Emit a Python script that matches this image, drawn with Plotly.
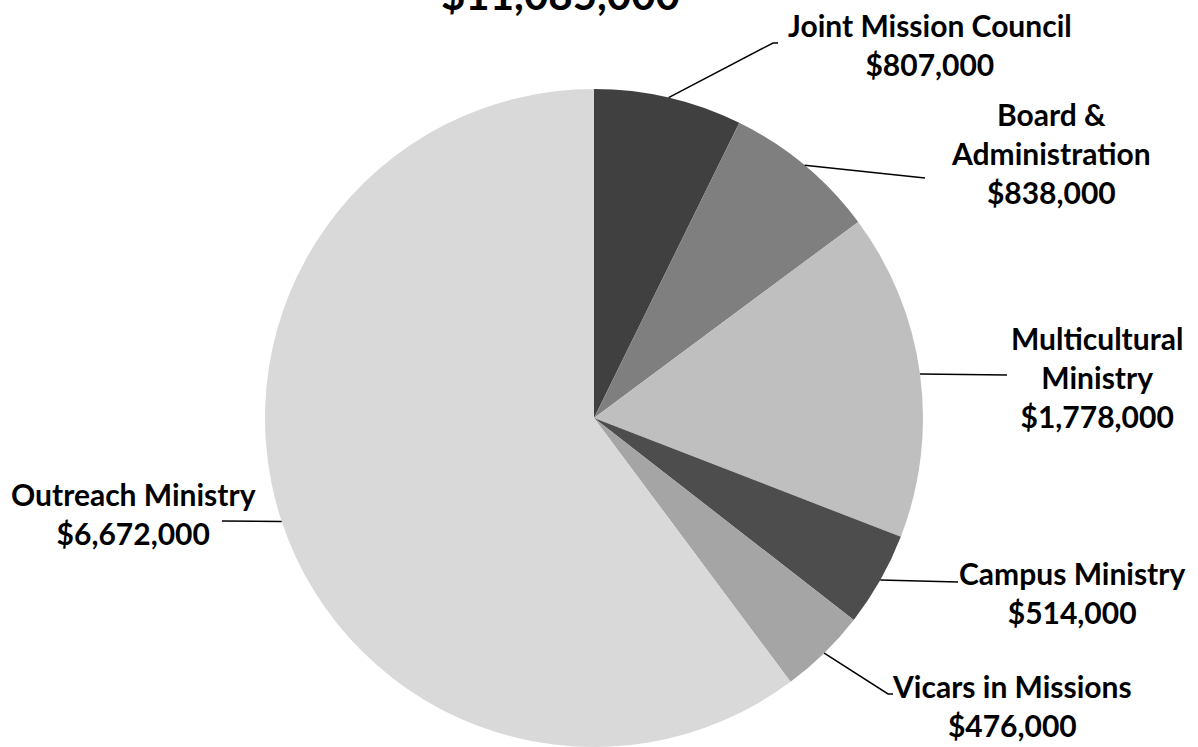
import math
import plotly.graph_objects as go

# ---- data ----
categories = ["Joint Mission Council", "Board & Administration", "Multicultural Ministry",
              "Campus Ministry", "Vicars in Missions", "Outreach Ministry"]
values = [807000, 838000, 1778000, 514000, 476000, 6672000]
label_lines = [["Joint Mission Council"], ["Board &", "Administration"], ["Multicultural", "Ministry"],
               ["Campus Ministry"], ["Vicars in Missions"], ["Outreach Ministry"]]
colors = ["#404040", "#7f7f7f", "#bfbfbf", "#4d4d4d", "#a5a5a5", "#d9d9d9"]
total = sum(values)
title_text = "${:,}".format(total)

W, H = 1198, 747
CX, CY, R = 594, 418, 329  # pie centre / radius in pixels

def px(x, y):
    return x / W, 1 - y / H

# label layout (text centre, elbow, end of leader) in pixels
label_pos = [(930, 45), (1051, 153), (1097, 377), (1072, 592), (1012, 705), (133, 513)]
leader_ends = [[(773, 43), (778, 43)], [(925, 178)], [(1007, 375)], [(958, 582)],
               [(888, 694), (893, 694)], [(222, 521)]]

FONT = "Lato"
fig = go.Figure()
fig.add_trace(go.Pie(
    labels=categories, values=values, sort=False, direction="clockwise", rotation=0,
    marker=dict(colors=colors, line=dict(width=0)), textinfo="none", hoverinfo="label+value",
    showlegend=False,
    domain=dict(x=[(CX - R) / W, (CX + R) / W], y=[max(0, (H - CY - R) / H), min(1, (H - CY + R) / H)]),
))

shapes = []
annotations = []
cum = 0
for i, v in enumerate(values):
    frac = (cum + v / 2) / total
    cum += v
    ang = 2 * math.pi * frac
    sx, sy = CX + R * math.sin(ang), CY - R * math.cos(ang)
    pts = [(sx, sy)] + leader_ends[i]
    path = "M " + " L ".join("{:.5f},{:.5f}".format(*px(x, y)) for x, y in pts)
    shapes.append(dict(type="path", path=path, xref="paper", yref="paper",
                       line=dict(color="black", width=1.5)))
    text = "<br>".join(label_lines[i] + ["${:,}".format(v)])
    ax, ay = px(*label_pos[i])
    annotations.append(dict(text=text, x=ax, y=ay, xref="paper", yref="paper",
                            xanchor="center", yanchor="middle", showarrow=False, align="center",
                            font=dict(family=FONT, size=30, color="black", weight="bold")))

tx, ty = px(560, -6)
annotations.append(dict(text=title_text, x=tx, y=ty, xref="paper", yref="paper",
                        xanchor="center", yanchor="middle", showarrow=False,
                        font=dict(family=FONT, size=42, color="black", weight="bold")))

fig.update_layout(width=W, height=H, margin=dict(l=0, r=0, t=0, b=0),
                  paper_bgcolor="white", plot_bgcolor="white",
                  shapes=shapes, annotations=annotations)
fig.write_html("out.html", config={"displayModeBar": False},
               post_script="document.body.style.margin='0px';")
